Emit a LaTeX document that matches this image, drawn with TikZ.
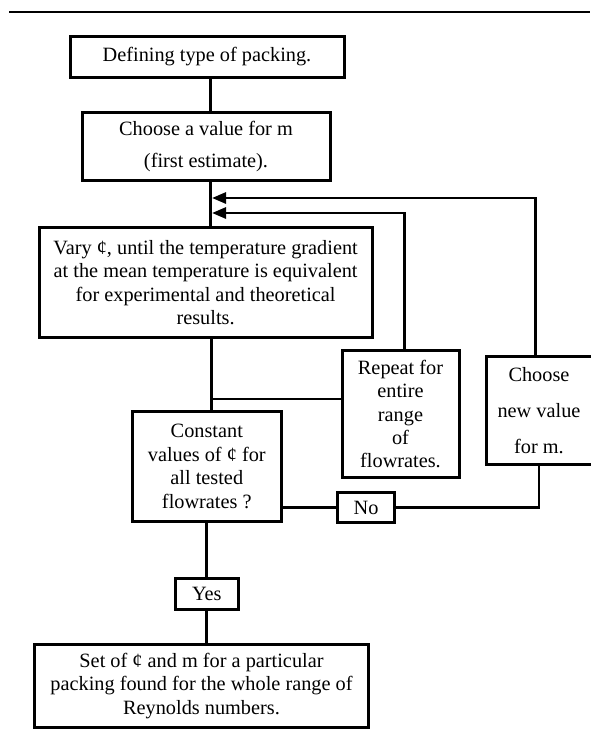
\documentclass[tikz,border=0pt]{standalone}
\usepackage{fontspec}
\setmainfont{Liberation Serif}
\usetikzlibrary{backgrounds}
\usetikzlibrary{calc,positioning,arrows.meta}

\begin{document}
\begin{tikzpicture}[
    x=1pt, y=-1pt,
    show background rectangle,
    tight background,
    background rectangle/.style={fill=white},
    box/.style={draw, line width=3pt, align=center, inner sep=0pt,
        font=\fontsize{20.3}{23.4}\selectfont},
    link/.style={line width=2.8pt},
    arr/.style={link, -{Triangle[length=14pt,width=11pt]}},
 ]
    \useasboundingbox (0,0) rectangle (590,747);
    \draw[line width=2.6pt] (9,12) -- (590,12);

    \node[box, minimum width=274pt, minimum height=41pt] (Def) at (207,57) {Defining type of packing.};
    \node[box, minimum width=248pt, minimum height=68pt] (Est) at (206,146.5) {Choose a value for m\\[9.3pt] (first estimate).};
    \node[box, minimum width=333pt, minimum height=110pt] (Vary) at (205.6,282.5)
        {Vary ¢, until the temperature gradient\\ at the mean temperature is equivalent\\ for experimental and theoretical\\ results.};
    \node[box, minimum width=117pt, minimum height=127pt] (Rep) at (400.5,414)
        {Repeat for\\ entire\\ range\\ of\\ flowrates.};
    \node[box, minimum width=106pt, minimum height=108pt] (New) at (539,410.5)
        {Choose\\[12.7pt] new value\\[12.7pt] for m.};
    \node[box, minimum width=149pt, minimum height=110pt] (Const) at (206.8,466.5)
        {Constant\\ values of ¢ for\\ all tested\\ flowrates ?};
    \node[box, minimum width=57pt, minimum height=30pt] (No) at (366,507.5) {No};
    \node[box, minimum width=63pt, minimum height=31pt] (Yes) at (206.8,594) {Yes};
    \node[box, minimum width=334pt, minimum height=83pt] (Res) at (201.5,686)
        {Set of ¢ and m for a particular\\ packing found for the whole range of\\ Reynolds numbers.};

    \coordinate (S) at (210.8,0);
    \coordinate (in1) at (212,198);
    \coordinate (in2) at (212,213);
    \coordinate (J) at (211.3,399);
    \draw[link] (Def.south -| S) -- (Est.north -| S);
    \draw[link] (Est.south -| S) -- (Vary.north -| S);
    \draw[arr] ([xshift=-3.5pt]New.north) |- (in1);
    \draw[arr] ([xshift=4pt]Rep.north) |- (in2);
    \draw[link] (Vary.south -| J) -- (Const.north -| J);
    \draw[link] (Rep.west |- J) -- (J);
    \draw[link] (Const.east |- No.west) -- (No.west);
    \draw[link] (No.east) -| (New.south);
    \draw[link] (Const.south) -- (Yes.north);
    \draw[link] (Yes.south) -- (Yes.south |- Res.north);
\end{tikzpicture}
\end{document}
